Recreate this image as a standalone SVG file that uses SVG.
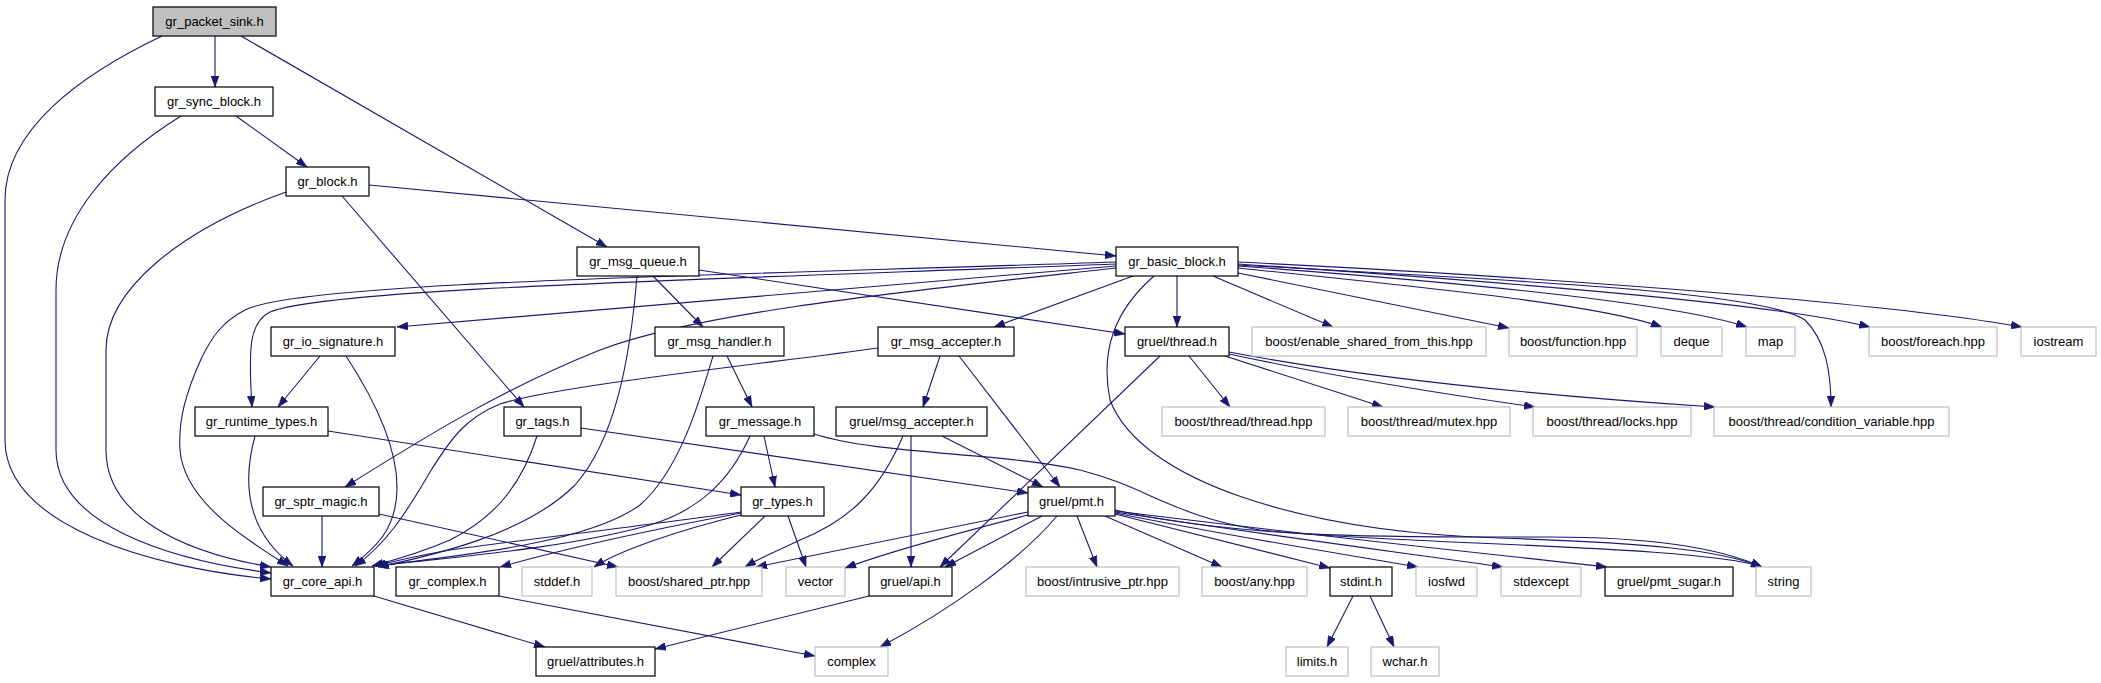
<svg xmlns="http://www.w3.org/2000/svg" width="2101" height="683" viewBox="0 0 2101 683">
<defs>
<marker id="a" markerUnits="userSpaceOnUse" markerWidth="11" markerHeight="8" refX="11" refY="4" orient="auto">
<path d="M0,0 L11,4 L0,8 z" fill="#191970" stroke="#191970" stroke-width="0.5"/>
</marker>
<style>
rect{fill:#fff;stroke:#000;stroke-width:1.2}
.x rect{stroke:#bfbfbf}
.r rect{fill:#bfbfbf}
text{font-family:"Liberation Sans",Arial,sans-serif;font-size:13px;text-anchor:middle;fill:#000}
#edges path{fill:none;stroke:#191970;stroke-width:1.1;marker-end:url(#a)}
</style>
</defs>
<rect x="0" y="0" width="2101" height="683" style="fill:#fff;stroke:none"/>
<g id="edges">
<path d="M162,36 C80,75 5,130 5,200 L5,440 C5,525 150,568 271,579"/>
<path d="M215,36 L215,87"/>
<path d="M241,36 L607,247"/>
<path d="M181,116 C110,160 56,220 56,290 L56,450 C56,525 170,560 271,573"/>
<path d="M236,116 L307,167"/>
<path d="M286,192 C180,230 106,290 106,350 L106,450 C106,515 180,552 271,567"/>
<path d="M369,185 L1116,256"/>
<path d="M342,196 L524,407"/>
<path d="M637,276 C630,360 615,440 575,485 C525,535 430,556 378,567"/>
<path d="M653,276 L703,327"/>
<path d="M699,270 L1125,334"/>
<path d="M1116,262 C700,276 300,282 245,310 C222,322 212,337 202,357 C186,392 178,420 180,450 C184,500 240,535 288,566"/>
<path d="M1116,264 C700,280 330,288 270,312 C250,322 248,345 252,407"/>
<path d="M1116,266 L397,327"/>
<path d="M1116,268 C900,292 700,312 600,350 C500,390 420,440 345,487"/>
<path d="M1133,276 L994,327"/>
<path d="M1177,276 L1177,327"/>
<path d="M1154,276 C1115,310 1100,350 1110,400 C1140,480 1300,532 1500,538 C1650,543 1720,550 1762,567"/>
<path d="M1213,276 L1333,327"/>
<path d="M1238,273 L1509,328"/>
<path d="M1238,268 C1450,290 1600,305 1662,327"/>
<path d="M1238,266 C1500,285 1680,305 1747,327"/>
<path d="M1238,264 C1550,285 1780,305 1870,327"/>
<path d="M1238,262 C1600,280 1900,305 2022,327"/>
<path d="M1238,265 C1500,280 1760,290 1805,320 C1825,340 1831,370 1831,407"/>
<path d="M320,356 L278,407"/>
<path d="M346,356 C378,405 398,450 397,490 C396,530 375,548 352,566"/>
<path d="M727,356 L752,407"/>
<path d="M713,356 C700,400 680,470 640,505 C585,545 450,556 377,566"/>
<path d="M878,348 C780,362 560,385 500,404 C465,418 450,440 430,472 C405,515 385,545 355,566"/>
<path d="M940,356 L923,407"/>
<path d="M959,356 L1060,487"/>
<path d="M1160,356 L940,567"/>
<path d="M1189,356 L1230,407"/>
<path d="M1225,356 L1383,407"/>
<path d="M1229,354 C1350,380 1450,395 1535,407"/>
<path d="M1229,352 C1350,375 1500,393 1715,407"/>
<path d="M255,436 C243,480 245,530 293,566"/>
<path d="M328,431 L741,495"/>
<path d="M537,436 C520,490 490,520 450,540 C420,553 395,560 372,566"/>
<path d="M581,428 L1028,493"/>
<path d="M750,436 C730,480 700,510 650,525 C560,550 440,558 376,566"/>
<path d="M764,436 L775,487"/>
<path d="M814,434 C880,455 1000,452 1080,470 C1150,488 1170,515 1260,530 C1400,545 1700,545 1762,567"/>
<path d="M903,436 C880,490 850,520 800,540 C775,552 760,558 745,567"/>
<path d="M911,436 L911,567"/>
<path d="M942,436 L1043,487"/>
<path d="M322,516 L322,567"/>
<path d="M379,514 L618,567"/>
<path d="M741,512 C650,525 520,540 450,550 C420,555 400,560 375,566"/>
<path d="M741,513 C650,530 560,550 500,567"/>
<path d="M741,515 C680,530 620,550 594,567"/>
<path d="M765,516 L712,567"/>
<path d="M788,516 L806,567"/>
<path d="M1028,512 L756,567"/>
<path d="M1028,515 C950,535 880,555 845,568"/>
<path d="M1042,516 L945,567"/>
<path d="M1057,516 C1020,560 950,610 880,647"/>
<path d="M1077,516 L1097,567"/>
<path d="M1105,516 L1222,567"/>
<path d="M1115,514 L1330,568"/>
<path d="M1115,513 C1250,540 1350,555 1418,567"/>
<path d="M1115,512 C1300,540 1420,555 1503,567"/>
<path d="M1115,511 C1350,540 1500,555 1607,567"/>
<path d="M1115,510 C1250,540 1400,537 1550,537 C1650,537 1720,548 1762,567"/>
<path d="M374,596 L545,647"/>
<path d="M499,596 L815,656"/>
<path d="M869,596 L655,649"/>
<path d="M1353,596 L1327,647"/>
<path d="M1370,596 L1394,647"/>
</g>
<g id="n0" class="r"><rect x="153" y="7" width="123" height="29"/><text x="214.5" y="26">gr_packet_sink.h</text></g>
<g id="n1"><rect x="155" y="87" width="118" height="29"/><text x="214" y="106">gr_sync_block.h</text></g>
<g id="n2"><rect x="286" y="167" width="83" height="29"/><text x="327.5" y="186">gr_block.h</text></g>
<g id="n3"><rect x="577" y="247" width="122" height="29"/><text x="638" y="266">gr_msg_queue.h</text></g>
<g id="n4"><rect x="1116" y="247" width="122" height="29"/><text x="1177" y="266">gr_basic_block.h</text></g>
<g id="n5"><rect x="271" y="327" width="124" height="29"/><text x="333" y="346">gr_io_signature.h</text></g>
<g id="n6"><rect x="655" y="327" width="129" height="29"/><text x="719.5" y="346">gr_msg_handler.h</text></g>
<g id="n7"><rect x="878" y="327" width="136" height="29"/><text x="946" y="346">gr_msg_accepter.h</text></g>
<g id="n8"><rect x="1125" y="327" width="104" height="29"/><text x="1177" y="346">gruel/thread.h</text></g>
<g id="n9" class="x"><rect x="1252" y="327" width="234" height="29"/><text x="1369" y="346">boost/enable_shared_from_this.hpp</text></g>
<g id="n10" class="x"><rect x="1509" y="327" width="128" height="29"/><text x="1573" y="346">boost/function.hpp</text></g>
<g id="n11" class="x"><rect x="1661" y="327" width="61" height="29"/><text x="1691.5" y="346">deque</text></g>
<g id="n12" class="x"><rect x="1746" y="327" width="49" height="29"/><text x="1770.5" y="346">map</text></g>
<g id="n13" class="x"><rect x="1869" y="327" width="128" height="29"/><text x="1933" y="346">boost/foreach.hpp</text></g>
<g id="n14" class="x"><rect x="2021" y="327" width="75" height="29"/><text x="2058.5" y="346">iostream</text></g>
<g id="n15"><rect x="195" y="407" width="133" height="29"/><text x="261.5" y="426">gr_runtime_types.h</text></g>
<g id="n16"><rect x="504" y="407" width="77" height="29"/><text x="542.5" y="426">gr_tags.h</text></g>
<g id="n17"><rect x="706" y="407" width="108" height="29"/><text x="760" y="426">gr_message.h</text></g>
<g id="n18"><rect x="836" y="407" width="151" height="29"/><text x="911.5" y="426">gruel/msg_accepter.h</text></g>
<g id="n19" class="x"><rect x="1162" y="407" width="163" height="29"/><text x="1243.5" y="426">boost/thread/thread.hpp</text></g>
<g id="n20" class="x"><rect x="1348" y="407" width="162" height="29"/><text x="1429" y="426">boost/thread/mutex.hpp</text></g>
<g id="n21" class="x"><rect x="1533" y="407" width="158" height="29"/><text x="1612" y="426">boost/thread/locks.hpp</text></g>
<g id="n22" class="x"><rect x="1714" y="407" width="235" height="29"/><text x="1831.5" y="426">boost/thread/condition_variable.hpp</text></g>
<g id="n23"><rect x="263" y="487" width="116" height="29"/><text x="321" y="506">gr_sptr_magic.h</text></g>
<g id="n24"><rect x="741" y="487" width="83" height="29"/><text x="782.5" y="506">gr_types.h</text></g>
<g id="n25"><rect x="1028" y="487" width="87" height="29"/><text x="1071.5" y="506">gruel/pmt.h</text></g>
<g id="n26"><rect x="271" y="567" width="103" height="29"/><text x="322.5" y="586">gr_core_api.h</text></g>
<g id="n27"><rect x="396" y="567" width="103" height="29"/><text x="447.5" y="586">gr_complex.h</text></g>
<g id="n28" class="x"><rect x="522" y="567" width="70" height="29"/><text x="557" y="586">stddef.h</text></g>
<g id="n29" class="x"><rect x="616" y="567" width="146" height="29"/><text x="689" y="586">boost/shared_ptr.hpp</text></g>
<g id="n30" class="x"><rect x="786" y="567" width="59" height="29"/><text x="815.5" y="586">vector</text></g>
<g id="n31"><rect x="869" y="567" width="83" height="29"/><text x="910.5" y="586">gruel/api.h</text></g>
<g id="n32" class="x"><rect x="1026" y="567" width="153" height="29"/><text x="1102.5" y="586">boost/intrusive_ptr.hpp</text></g>
<g id="n33" class="x"><rect x="1202" y="567" width="105" height="29"/><text x="1254.5" y="586">boost/any.hpp</text></g>
<g id="n34"><rect x="1330" y="567" width="62" height="29"/><text x="1361" y="586">stdint.h</text></g>
<g id="n35" class="x"><rect x="1416" y="567" width="61" height="29"/><text x="1446.5" y="586">iosfwd</text></g>
<g id="n36" class="x"><rect x="1501" y="567" width="80" height="29"/><text x="1541" y="586">stdexcept</text></g>
<g id="n37"><rect x="1605" y="567" width="128" height="29"/><text x="1669" y="586">gruel/pmt_sugar.h</text></g>
<g id="n38" class="x"><rect x="1756" y="567" width="55" height="29"/><text x="1783.5" y="586">string</text></g>
<g id="n39"><rect x="536" y="647" width="119" height="29"/><text x="595.5" y="666">gruel/attributes.h</text></g>
<g id="n40" class="x"><rect x="815" y="647" width="73" height="29"/><text x="851.5" y="666">complex</text></g>
<g id="n41" class="x"><rect x="1286" y="647" width="62" height="29"/><text x="1317" y="666">limits.h</text></g>
<g id="n42" class="x"><rect x="1371" y="647" width="68" height="29"/><text x="1405" y="666">wchar.h</text></g>
</svg>
